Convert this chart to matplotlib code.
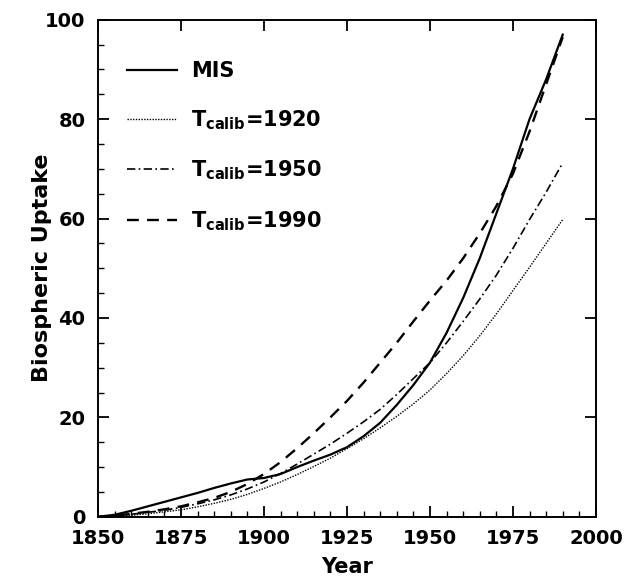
import numpy as np
import matplotlib.pyplot as plt
from matplotlib.ticker import MultipleLocator

plt.rcParams['font.family'] = 'DejaVu Sans'
plt.rcParams['font.weight'] = 'bold'
plt.rcParams['mathtext.fontset'] = 'custom'
plt.rcParams['mathtext.rm'] = 'DejaVu Sans:bold'
plt.rcParams['mathtext.it'] = 'DejaVu Sans:bold'
plt.rcParams['mathtext.bf'] = 'DejaVu Sans:bold'
plt.rcParams['mathtext.default'] = 'rm'

# data
years = np.arange(1850, 1991, 5)
mis = [0, 0.4, 1.2, 2.1, 3.0, 3.9, 4.8, 5.8, 6.7, 7.5, 7.8, 8.6, 10.0, 11.3, 12.5,
       14.0, 16.2, 18.9, 22.5, 26.5, 31.0, 37.0, 44.0, 52.0, 61.0, 70.0, 80.0, 88.0, 97.0]
t1920 = [0, 0.1, 0.3, 0.6, 1.0, 1.4, 2.0, 2.7, 3.5, 4.5, 5.7, 7.0, 8.5, 10.1, 11.8,
         13.7, 15.7, 17.9, 20.2, 22.7, 25.5, 28.8, 32.4, 36.4, 40.8, 45.5, 50.2, 55.0, 59.8]
t1950 = [0, 0.2, 0.5, 0.9, 1.3, 1.9, 2.6, 3.4, 4.4, 5.6, 7.0, 8.7, 10.6, 12.6, 14.6,
         16.8, 19.1, 21.6, 24.6, 27.8, 31.0, 35.0, 39.3, 43.8, 48.6, 54.0, 59.8, 65.3, 71.2]
t1990 = [0, 0.2, 0.6, 1.0, 1.5, 2.1, 2.9, 3.8, 5.0, 6.6, 8.6, 11.0, 13.8, 16.8, 20.0,
         23.3, 27.0, 31.0, 35.0, 39.3, 43.5, 47.5, 52.0, 57.0, 62.5, 69.0, 77.5, 87.0, 96.5]

fig = plt.figure(figsize=(6.24, 5.8), dpi=100)
ax = fig.add_axes([0.157, 0.109, 0.798, 0.857])

ax.plot(years, mis, color='black', lw=1.6, ls='-', label='MIS')
ax.plot(years, t1920, color='black', lw=1.0, ls=(0, (1, 1)), label=r'T$_{calib}$=1920')
ax.plot(years, t1950, color='black', lw=1.2, ls=(0, (5, 2, 1, 2)), label=r'T$_{calib}$=1950')
ax.plot(years, t1990, color='black', lw=1.7, ls=(0, (5, 3.5)), label=r'T$_{calib}$=1990')

ax.set_xlim(1850, 2000)
ax.set_ylim(0, 100)
ax.xaxis.set_major_locator(MultipleLocator(25))
ax.xaxis.set_minor_locator(MultipleLocator(5))
ax.yaxis.set_major_locator(MultipleLocator(20))
ax.yaxis.set_minor_locator(MultipleLocator(5))
ax.tick_params(which='major', direction='in', length=8, width=1.3, top=True, right=True,
               labelsize=14)
ax.tick_params(axis='x', which='major', pad=9)
ax.tick_params(axis='y', which='major', pad=9)
ax.tick_params(which='minor', direction='in', length=4, width=1.0, top=False, right=False)
for s in ax.spines.values():
    s.set_linewidth(1.4)

ax.set_xlabel('Year', fontsize=15, fontweight='bold')
ax.set_ylabel('Biospheric Uptake', fontsize=16, fontweight='bold')
ax.xaxis.set_label_coords(0.5, -0.08)
ax.yaxis.set_label_coords(-0.092, 0.5)

ax.legend(loc='upper left', bbox_to_anchor=(0.02, 0.955), frameon=False, fontsize=15,
          handlelength=2.4, handletextpad=0.7, labelspacing=1.3)

plt.savefig('out.png')
